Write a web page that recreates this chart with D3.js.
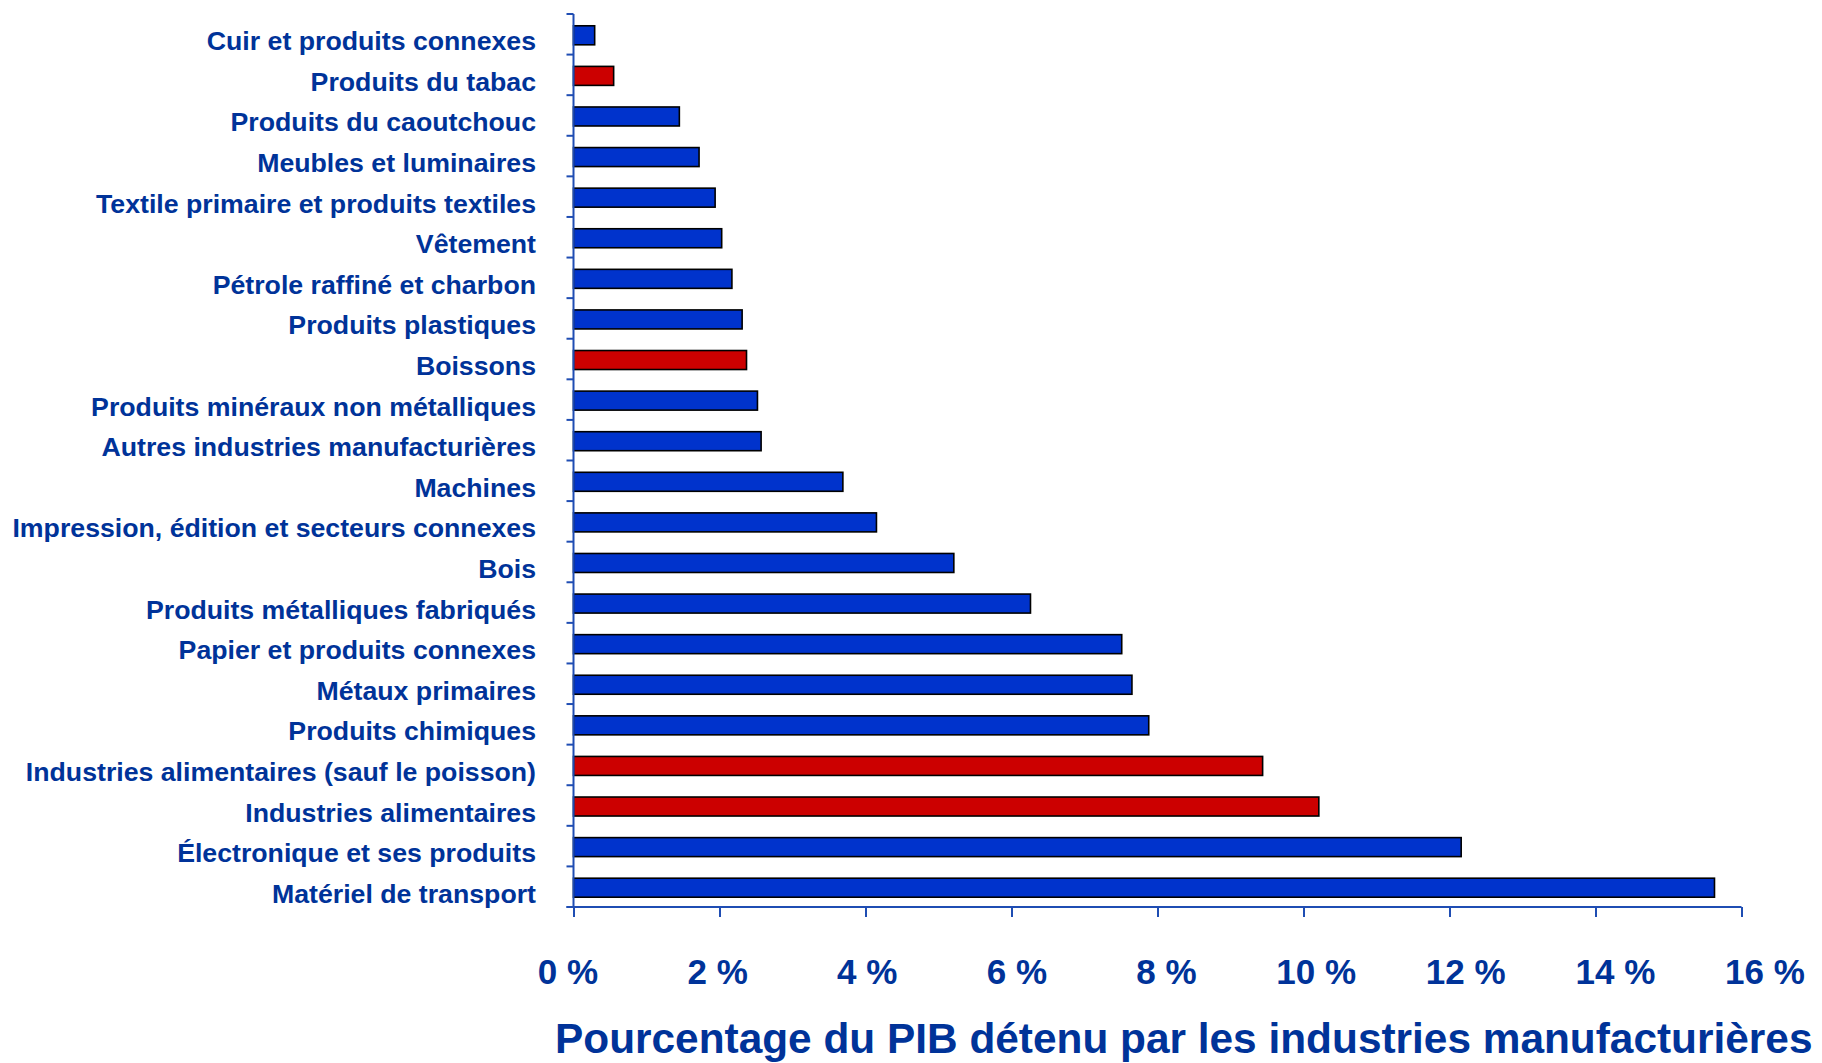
<!DOCTYPE html>
<html>
<head>
<meta charset="utf-8">
<script src="https://cdn.jsdelivr.net/npm/d3@7"></script>
<style>
  html, body { margin: 0; padding: 0; background: #ffffff; }
  svg { display: block; }
  text { font-family: "Liberation Sans", Arial, sans-serif; font-weight: bold; }
</style>
</head>
<body>
<svg id="chart" width="1822" height="1063"></svg>
<script>
const categories = [
  "Cuir et produits connexes",
  "Produits du tabac",
  "Produits du caoutchouc",
  "Meubles et luminaires",
  "Textile primaire et produits textiles",
  "Vêtement",
  "Pétrole raffiné et charbon",
  "Produits plastiques",
  "Boissons",
  "Produits minéraux non métalliques",
  "Autres industries manufacturières",
  "Machines",
  "Impression, édition et secteurs connexes",
  "Bois",
  "Produits métalliques fabriqués",
  "Papier et produits connexes",
  "Métaux primaires",
  "Produits chimiques",
  "Industries alimentaires (sauf le poisson)",
  "Industries alimentaires",
  "Électronique et ses produits",
  "Matériel de transport"
];
const values = [0.29, 0.55, 1.45, 1.72, 1.94, 2.03, 2.17, 2.31, 2.37, 2.52, 2.57, 3.69, 4.15, 5.21, 6.26, 7.51, 7.65, 7.88, 9.44, 10.21, 12.16, 15.63];
const highlighted = ["Produits du tabac", "Boissons", "Industries alimentaires (sauf le poisson)", "Industries alimentaires"];
const tickValues = [0, 2, 4, 6, 8, 10, 12, 14, 16];
const tickLabels = ["0 %", "2 %", "4 %", "6 %", "8 %", "10 %", "12 %", "14 %", "16 %"];
const axisTitle = "Pourcentage du PIB détenu par les industries manufacturières";

const textColor = "#003399";
const axisColor = "#1f4db3";
const blue = "#0033cc";
const red = "#cc0000";

const svg = d3.select("#chart");

const x = d3.scaleLinear().domain([0, 16]).range([573.5, 1741.5]);
const xLabel = d3.scaleLinear().domain([0, 16]).range([568, 1765]);
const y = d3.scaleBand().domain(categories).range([14, 907]).paddingInner(0).paddingOuter(0);
const bw = y.bandwidth();

// bars
svg.append("g").selectAll("rect")
  .data(categories.map((c, i) => ({ c, v: values[i] })))
  .join("rect")
  .attr("x", x(0))
  .attr("y", d => y(d.c) + bw / 2 - 8.5)
  .attr("width", d => x(d.v) - x(0))
  .attr("height", 19)
  .attr("fill", d => highlighted.includes(d.c) ? red : blue)
  .attr("stroke", "#000")
  .attr("stroke-width", 1.6);

// y axis line + ticks at band boundaries
const yAxisG = svg.append("g");
yAxisG.append("line")
  .attr("x1", x(0)).attr("x2", x(0))
  .attr("y1", y.range()[0]).attr("y2", y.range()[1])
  .attr("stroke", axisColor).attr("stroke-width", 2);
const boundaries = categories.map(c => y(c)).concat([y.range()[1]]);
yAxisG.selectAll("line.tick")
  .data(boundaries)
  .join("line")
  .attr("class", "tick")
  .attr("x1", x(0) - 7).attr("x2", x(0))
  .attr("y1", d => d).attr("y2", d => d)
  .attr("stroke", axisColor).attr("stroke-width", 2);

// category labels
svg.append("g").selectAll("text")
  .data(categories)
  .join("text")
  .attr("x", 536)
  .attr("y", d => y(d) + bw / 2 + 16)
  .attr("text-anchor", "end")
  .attr("font-size", 26.7)
  .attr("fill", textColor)
  .text(d => d);

// x axis
const xAxis = d3.axisBottom(x).tickValues(tickValues).tickSize(10).tickFormat("");
const xg = svg.append("g").attr("transform", `translate(0,${y.range()[1]})`).call(xAxis);
xg.select(".domain").attr("stroke", axisColor).attr("stroke-width", 2)
  .attr("d", `M${x(0) - 7},0H${x(16)}`);
xg.selectAll(".tick line").attr("stroke", axisColor).attr("stroke-width", 2);

// tick labels
svg.append("g").selectAll("text")
  .data(tickValues)
  .join("text")
  .attr("x", d => xLabel(d))
  .attr("y", 984)
  .attr("text-anchor", "middle")
  .attr("font-size", 35)
  .attr("fill", textColor)
  .text((d, i) => tickLabels[i]);

// axis title
const t = svg.append("text")
  .attr("x", 555)
  .attr("y", 1053)
  .attr("font-size", 36)
  .attr("fill", textColor)
  .text(axisTitle);
const w = t.node().getComputedTextLength();
t.attr("font-size", 36 * 1258 / w);
</script>
</body>
</html>
